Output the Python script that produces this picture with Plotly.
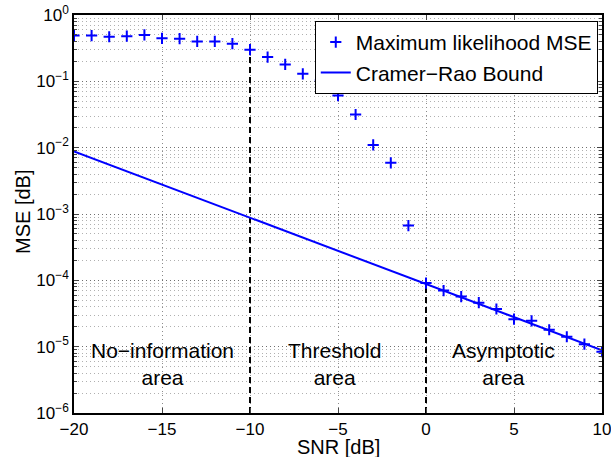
import plotly.graph_objects as go

snr = list(range(-20, 11))
ml_mse = [0.49, 0.49, 0.47, 0.48, 0.50, 0.445, 0.44, 0.40, 0.40, 0.37,
          0.30, 0.232, 0.18, 0.13, 0.104, 0.061, 0.0316, 0.011, 0.0059, 6.7e-4,
          9.1e-5, 7.0e-5, 5.7e-5, 4.6e-5, 3.7e-5, 2.6e-5, 2.45e-5, 1.8e-5, 1.41e-5, 1.09e-5, 8.4e-6]
crb_snr = [-20, 10]
crb_mse = [8.8e-3, 8.8e-6]

boundary_snr = [-10, 0]
boundary_top = [0.30, 9.1e-5]
y_bottom = 1e-6

region_labels = ["No\u2212information<br>area", "Threshold<br>area", "Asymptotic<br>area"]
region_x = [-15, -5.2, 4.4]
region_y_log = -5.26

x_title = "SNR [dB]"
y_title = "MSE [dB]"

xticks = [-20, -15, -10, -5, 0, 5, 10]
yticks = [1e-6, 1e-5, 1e-4, 1e-3, 1e-2, 1e-1, 1e0]
yticklabels = ["10<sup>\u22126</sup>", "10<sup>\u22125</sup>", "10<sup>\u22124</sup>",
               "10<sup>\u22123</sup>", "10<sup>\u22122</sup>", "10<sup>\u22121</sup>", "10<sup>0</sup>"]

blue = "rgb(0,0,255)"
font = "Liberation Sans, Arial, Helvetica, sans-serif"

fig = go.Figure()
for xb, yt in zip(boundary_snr, boundary_top):
    fig.add_trace(go.Scatter(x=[xb, xb], y=[y_bottom, yt], mode="lines",
                             line=dict(color="black", width=2, dash="6px,4px"),
                             showlegend=False, hoverinfo="skip"))
fig.add_trace(go.Scatter(x=snr, y=ml_mse, mode="markers", name="Maximum likelihood MSE",
                         marker=dict(symbol="cross-thin", size=8, color=blue,
                                     line=dict(color=blue, width=2))))
fig.add_trace(go.Scatter(x=crb_snr, y=crb_mse, mode="lines", name="Cramer\u2212Rao Bound",
                         line=dict(color=blue, width=2)))

for t, xp in zip(region_labels, region_x):
    fig.add_annotation(x=xp, y=region_y_log, text=t, showarrow=False,
                       font=dict(size=21, color="black", family=font))

fig.add_annotation(x=0.5, y=-0.0854, xref="paper", yref="paper", text=x_title,
                   showarrow=False, xanchor="center", yanchor="middle",
                   font=dict(size=20, color="black", family=font))
fig.add_annotation(x=-0.0966, y=0.505, xref="paper", yref="paper", text=y_title,
                   showarrow=False, xanchor="center", yanchor="middle", textangle=-90,
                   font=dict(size=20, color="black", family=font))

fig.update_layout(
    width=611, height=457,
    margin=dict(l=74, r=9, t=15, b=44),
    paper_bgcolor="white", plot_bgcolor="white",
    font=dict(family=font, color="black", size=17),
    legend=dict(x=0.992, y=0.985, xanchor="right", yanchor="top",
                bgcolor="white", bordercolor="black", borderwidth=1,
                font=dict(size=21), tracegroupgap=0, itemwidth=30),
    showlegend=True,
)
fig.update_xaxes(range=[-20, 10], tickvals=xticks, ticks="inside", ticklen=5,
                 showline=True, linecolor="black", linewidth=1.5, mirror="ticks",
                 showgrid=True, gridcolor="#8c8c8c", griddash="1px,3px", gridwidth=1,
                 zeroline=False, automargin=False, ticklabeloverflow="allow")
fig.update_yaxes(type="log", range=[-6, 0], tickvals=yticks, ticktext=yticklabels,
                 ticks="inside", ticklen=5,
                 showline=True, linecolor="black", linewidth=1.5, mirror="ticks",
                 showgrid=True, gridcolor="#6e6e6e", griddash="1px,3px", gridwidth=1,
                 zeroline=False, automargin=False, ticklabeloverflow="allow",
                 minor=dict(dtick="D1", ticks="inside", ticklen=3, showgrid=True,
                            gridcolor="#b0b0b0", griddash="1px,3px", gridwidth=1))

fig.write_html("out.html", config={"displayModeBar": False},
               post_script="document.body.style.margin='0';")
